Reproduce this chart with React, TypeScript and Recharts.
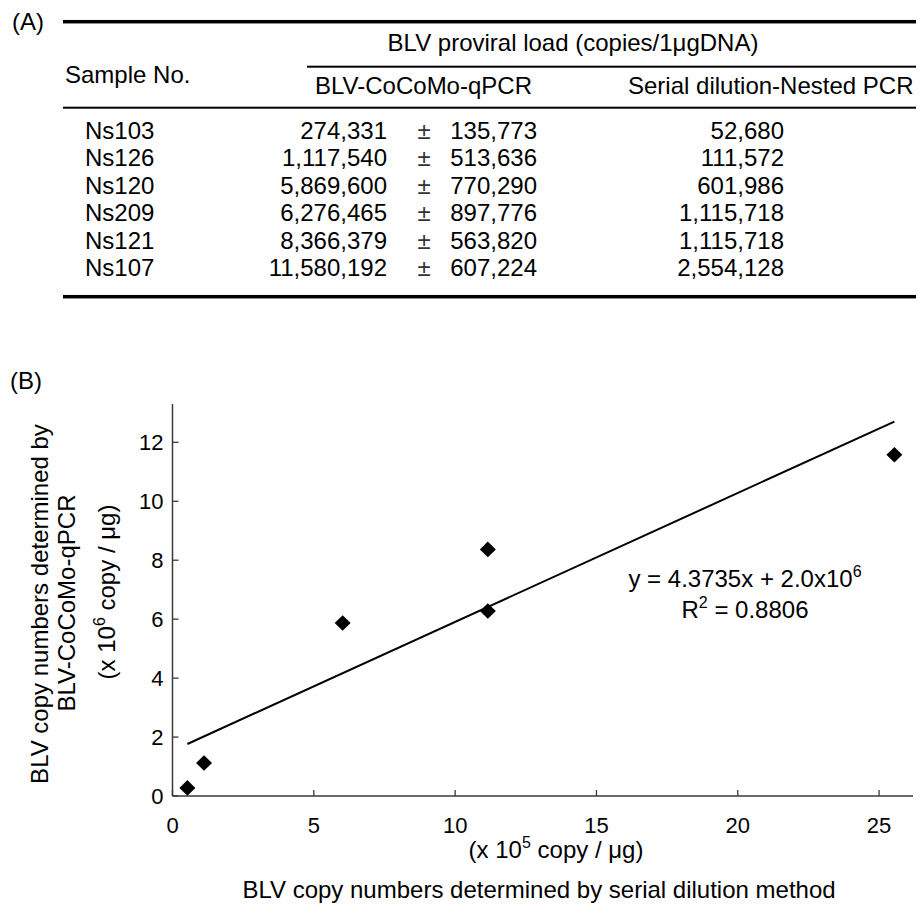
import React from "react";
import { ScatterChart, Scatter, XAxis, YAxis } from "recharts";

const FONT = "'Liberation Sans', Arial, sans-serif";
const INK = "#000";
const AXIS = "#3a3a3a";

// table (A)
const sampleIds = ["Ns103", "Ns126", "Ns120", "Ns209", "Ns121", "Ns107"];
const cocomoLoad = [274331, 1117540, 5869600, 6276465, 8366379, 11580192];
const cocomoSd = [135773, 513636, 770290, 897776, 563820, 607224];
const serialLoad = [52680, 111572, 601986, 1115718, 1115718, 2554128];

// plot (B) axes
const xTicks = [0, 5, 10, 15, 20, 25];
const yTicks = [0, 2, 4, 6, 8, 10, 12];
const xDomain = [0, 26.2];
const yDomain = [0, 13.3];

const fmt = (v: number) => v.toLocaleString("en-US");

// x in 10^5 copies, y in 10^6 copies
const points = sampleIds.map((id, i) => ({
  id,
  x: serialLoad[i] / 1e5,
  y: cocomoLoad[i] / 1e6,
}));

// least squares fit drawn between the smallest and largest x
const meanX = points.reduce((s, p) => s + p.x, 0) / points.length;
const meanY = points.reduce((s, p) => s + p.y, 0) / points.length;
const sxy = points.reduce((s, p) => s + (p.x - meanX) * (p.y - meanY), 0);
const sxx = points.reduce((s, p) => s + (p.x - meanX) ** 2, 0);
const slope = sxy / sxx;
const intercept = meanY - slope * meanX;
const xs = points.map((p) => p.x);
const fitLine = [Math.min(...xs), Math.max(...xs)].map((x) => ({
  x,
  y: intercept + slope * x,
}));

const X_GAP = 21;
const Y_GAP = 9;
const TICK_LEN = 6;

function DiamondMark(props: any) {
  const { cx, cy } = props;
  if (cx == null || cy == null) return <g />;
  return (
    <polygon
      points={`${cx},${cy - 7.8} ${cx + 8},${cy} ${cx},${cy + 7.8} ${cx - 8},${cy}`}
      fill={INK}
    />
  );
}

function XTick(props: any) {
  const { x, y, payload } = props;
  const axisY = y - X_GAP;
  return (
    <g>
      <line x1={x} x2={x} y1={axisY} y2={axisY - TICK_LEN} stroke={AXIS} strokeWidth={1.3} />
      <text x={x} y={y} dy="0.71em" textAnchor="middle" fontSize={22} fontFamily={FONT} fill={INK}>
        {payload.value}
      </text>
    </g>
  );
}

function YTick(props: any) {
  const { x, y, payload } = props;
  const axisX = x + Y_GAP;
  return (
    <g>
      <line x1={axisX} x2={axisX + TICK_LEN} y1={y} y2={y} stroke={AXIS} strokeWidth={1.3} />
      <text x={x} y={y} dy="0.355em" textAnchor="end" fontSize={22} fontFamily={FONT} fill={INK}>
        {payload.value}
      </text>
    </g>
  );
}

function Rule({ x1, x2, y, w }: { x1: number; x2: number; y: number; w: number }) {
  return <rect x={x1} y={y - w / 2} width={x2 - x1} height={w} fill={INK} />;
}

function Overlay() {
  const rowBase = 138.5;
  const rowStep = 27.5;
  const t = { fontFamily: FONT, fontSize: 24, fill: INK };
  return (
    <svg
      width={921}
      height={906}
      style={{ position: "absolute", left: 0, top: 0, pointerEvents: "none" }}
    >
      {/* (A) table */}
      <text x={12} y={30} {...t}>(A)</text>
      <Rule x1={63} x2={916} y={21.7} w={3.5} />
      <text x={573} y={51} textAnchor="middle" {...t}>
        BLV proviral load (copies/1μgDNA)
      </text>
      <Rule x1={307} x2={916} y={66.7} w={2} />
      <text x={65} y={83} {...t}>Sample No.</text>
      <text x={423.5} y={94} textAnchor="middle" {...t}>BLV-CoCoMo-qPCR</text>
      <text x={628} y={94} {...t}>Serial dilution-Nested PCR</text>
      <Rule x1={63} x2={916} y={107.7} w={2} />
      {sampleIds.map((id, i) => {
        const y = rowBase + i * rowStep;
        return (
          <g key={id}>
            <text x={85} y={y} {...t}>{id}</text>
            <text x={387} y={y} textAnchor="end" {...t}>{fmt(cocomoLoad[i])}</text>
            <text x={424} y={y} textAnchor="middle" {...t} fill="#333">±</text>
            <text x={537} y={y} textAnchor="end" {...t}>{fmt(cocomoSd[i])}</text>
            <text x={784} y={y} textAnchor="end" {...t}>{fmt(serialLoad[i])}</text>
          </g>
        );
      })}
      <Rule x1={63} x2={916} y={296.7} w={3.5} />

      {/* (B) labels */}
      <text x={10} y={389} {...t}>(B)</text>
      <g {...t} textAnchor="middle">
        <text transform="translate(48,604) rotate(-90)">BLV copy numbers determined by</text>
        <text transform="translate(75,603) rotate(-90)">BLV-CoCoMo-qPCR</text>
        <text transform="translate(115,592) rotate(-90)">
          (x 10<tspan dy={-10} fontSize={16}>6</tspan>
          <tspan dy={10}> copy / μg)</tspan>
        </text>
      </g>
      <text x={556} y={858} textAnchor="middle" {...t}>
        (x 10<tspan dy={-10} fontSize={16}>5</tspan>
        <tspan dy={10}> copy / μg)</tspan>
      </text>
      <text x={539} y={898} textAnchor="middle" {...t}>
        BLV copy numbers determined by serial dilution method
      </text>
      <text x={745} y={587} textAnchor="middle" {...t}>
        y = 4.3735x + 2.0x10<tspan dy={-10} fontSize={16}>6</tspan>
      </text>
      <text x={745} y={618} textAnchor="middle" {...t}>
        R<tspan dy={-10} fontSize={16}>2</tspan>
        <tspan dy={10}> = 0.8806</tspan>
      </text>
    </svg>
  );
}

export default function App() {
  return (
    <div
      style={{
        position: "absolute",
        left: 0,
        top: 0,
        width: 921,
        height: 906,
        background: "#fff",
      }}
    >
      <ScatterChart
        width={921}
        height={906}
        margin={{ top: 404, right: 8, bottom: 80, left: 112.5 }}
      >
        <XAxis
          type="number"
          dataKey="x"
          domain={xDomain}
          ticks={xTicks}
          height={30}
          tickSize={0}
          tickMargin={X_GAP}
          tick={XTick}
          tickLine={false}
          axisLine={{ stroke: AXIS, strokeWidth: 1.5 }}
        />
        <YAxis
          type="number"
          dataKey="y"
          domain={yDomain}
          ticks={yTicks}
          width={60}
          tickSize={0}
          tickMargin={Y_GAP}
          tick={YTick}
          tickLine={false}
          axisLine={{ stroke: AXIS, strokeWidth: 1.5 }}
        />
        <Scatter
          data={fitLine}
          line={{ stroke: INK, strokeWidth: 2 }}
          shape={() => <g />}
          isAnimationActive={false}
        />
        <Scatter data={points} shape={DiamondMark} fill={INK} isAnimationActive={false} />
      </ScatterChart>
      <Overlay />
    </div>
  );
}
